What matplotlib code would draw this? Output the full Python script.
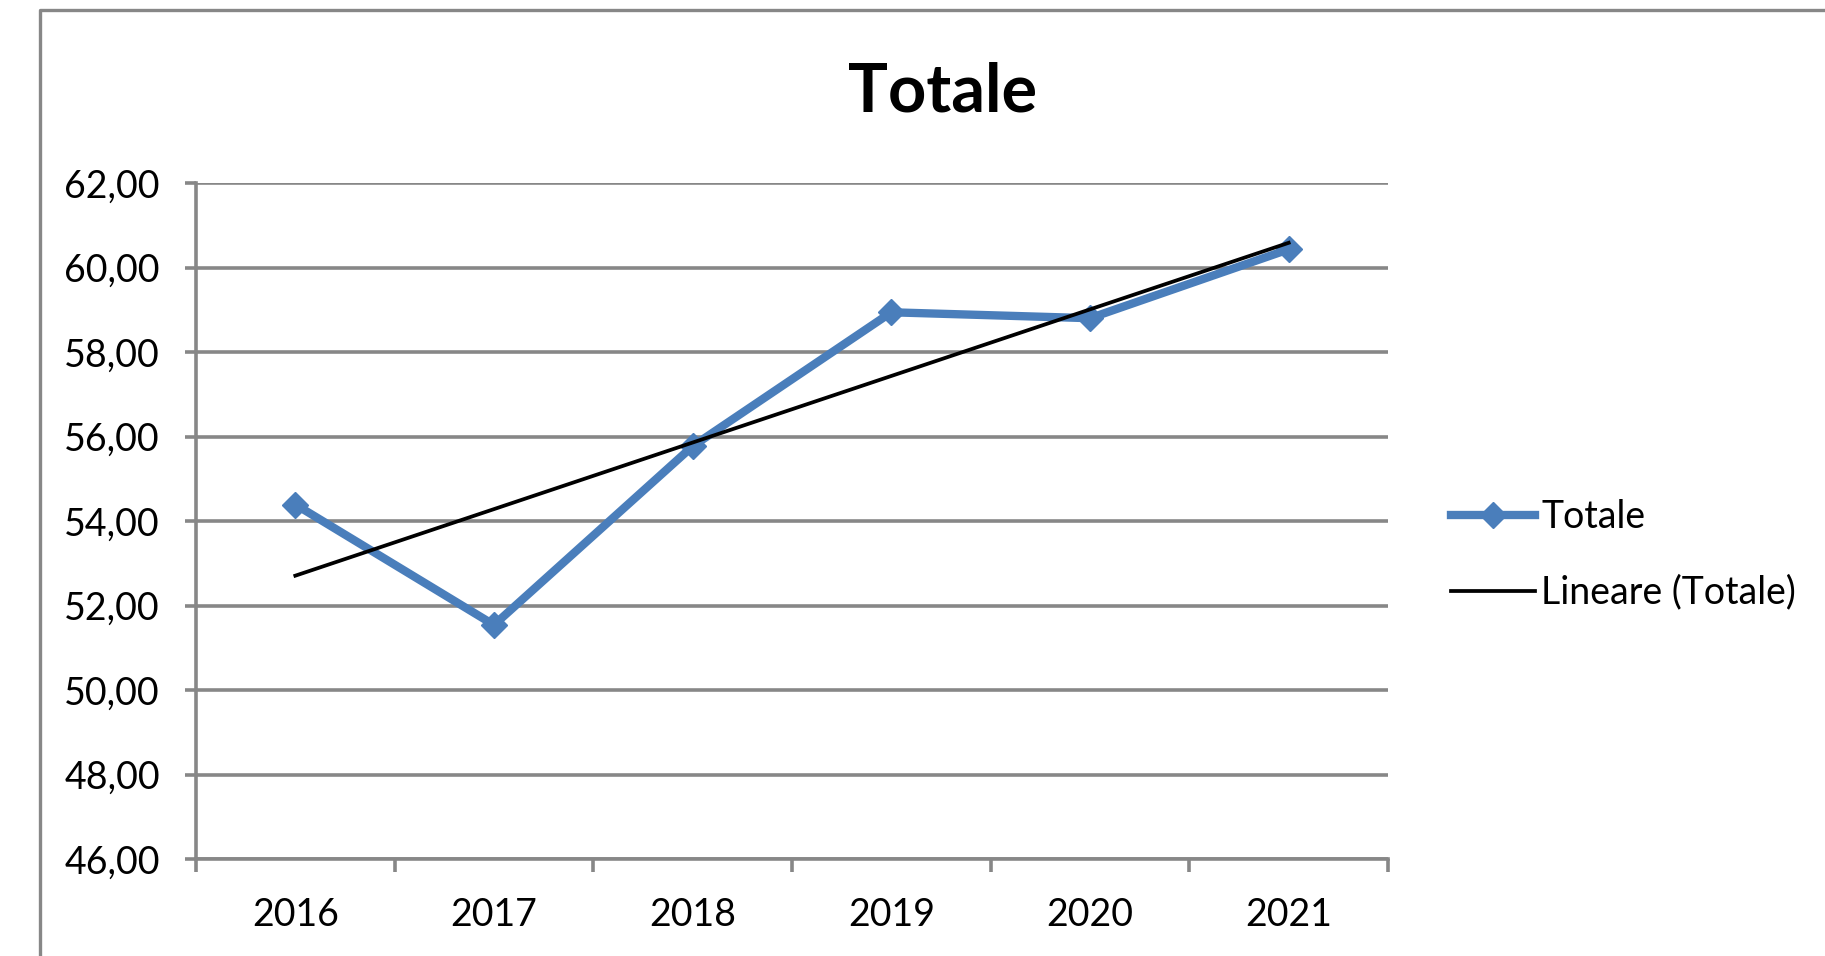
import numpy as np
import matplotlib
matplotlib.use('Agg')
import matplotlib.pyplot as plt
from matplotlib.lines import Line2D
from matplotlib.ticker import FuncFormatter

plt.rcParams['font.family'] = ['Lato', 'DejaVu Sans']

# dati
anni = ['2016', '2017', '2018', '2019', '2020', '2021']
totale = [54.39, 51.54, 55.77, 58.94, 58.80, 60.43]

blu = '#4a7ebb'
grigio = '#878787'

W, H = 1825, 956
fig = plt.figure(figsize=(W / 100, H / 100), dpi=100)
ax = fig.add_axes([196 / W, 1 - 859 / H, (1388 - 196) / W, (859 - 183) / H])

x = np.arange(len(anni))
ax.plot(x, totale, color=blu, lw=6, marker='D', ms=13, mec=blu, mew=1,
        solid_joinstyle='miter', label='Totale', zorder=3)

# retta di tendenza lineare
k, q = np.polyfit(x, totale, 1)
ax.plot(x, k * x + q, color='black', lw=2.7, label='Lineare (Totale)', zorder=4)

ax.set_xlim(-0.5, len(anni) - 0.5)
ax.set_ylim(46, 62)
ax.set_yticks(np.arange(46, 63, 2))
ax.yaxis.set_major_formatter(FuncFormatter(lambda v, p: f'{v:.2f}'.replace('.', ',')))

# tacche sui bordi delle categorie, etichette al centro
ax.set_xticks(np.arange(-0.5, len(anni), 1))
ax.set_xticklabels([])
ax.set_xticks(x, minor=True)
ax.set_xticklabels(anni, minor=True)
ax.tick_params(axis='x', which='major', length=9, width=2.6, color=grigio)
ax.tick_params(axis='x', which='minor', length=0, pad=27, labelsize=27)
ax.tick_params(axis='y', length=8, width=2.6, color=grigio, pad=18, labelsize=27)

ax.grid(axis='y', color=grigio, lw=2.6)
ax.set_axisbelow(True)
for s in ['top', 'right']:
    ax.spines[s].set_visible(False)
for s in ['left', 'bottom']:
    ax.spines[s].set_color(grigio)
    ax.spines[s].set_linewidth(2.6)

fig.text(943 / W, 1 - 112 / H, 'Totale', ha='center', va='baseline',
         fontsize=48, fontweight='bold')

fig.legend(loc='center left', bbox_to_anchor=(1436 / W, 1 - 555 / H),
           frameon=False, fontsize=27, handlelength=2.25, handletextpad=0.15,
           labelspacing=1.05, borderaxespad=0)

# cornice del grafico
fig.add_artist(Line2D([40 / W, 40 / W, 1.1], [-0.1, 1 - 10 / H, 1 - 10 / H],
                      transform=fig.transFigure, color=grigio, lw=2.4))

fig.savefig('out.png', dpi=100)
